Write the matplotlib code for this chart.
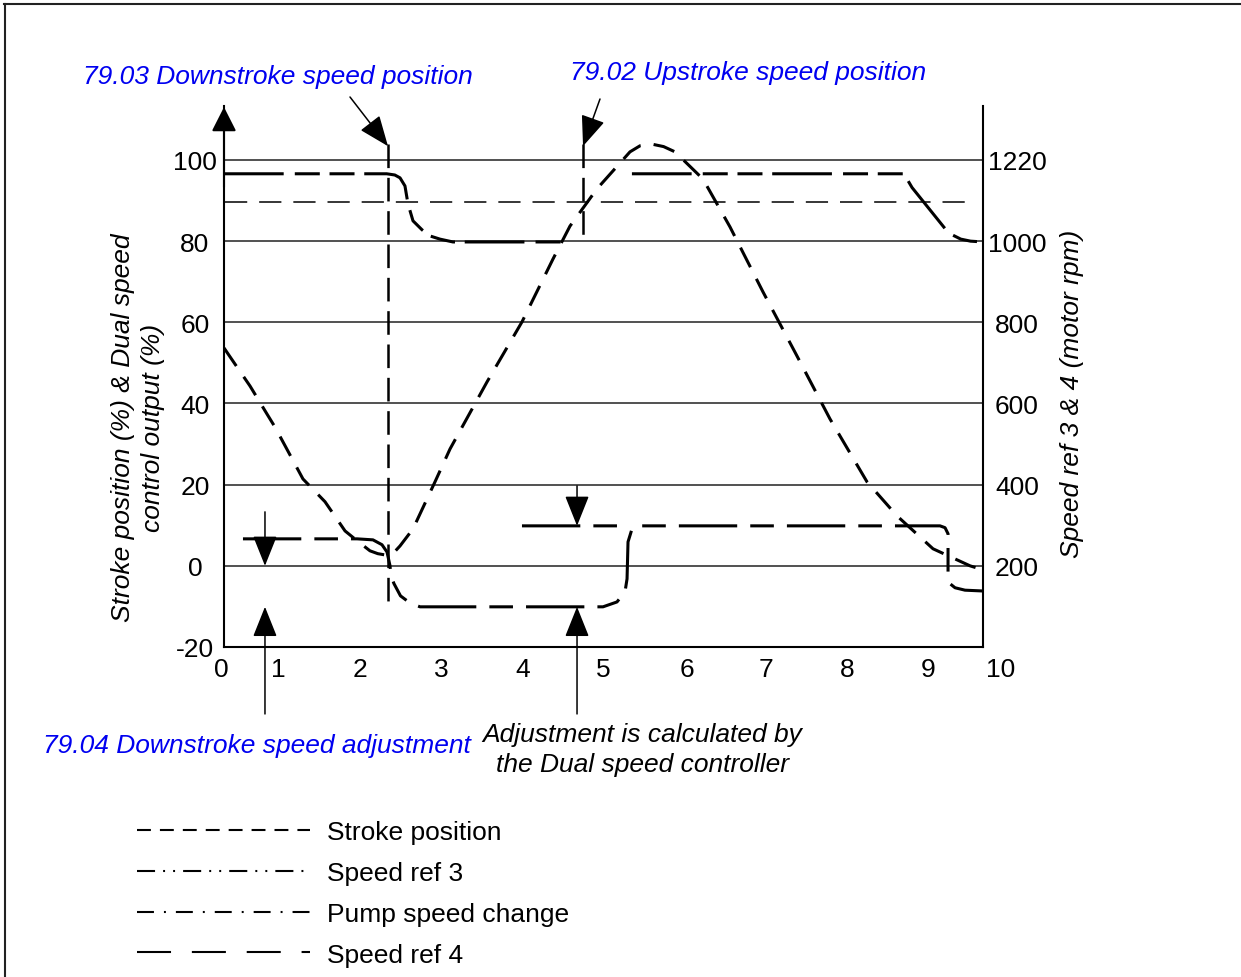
import numpy as np
import matplotlib
matplotlib.use("Agg")
import matplotlib.pyplot as plt
from matplotlib.lines import Line2D

plt.rcParams["font.family"] = ["Liberation Sans", "DejaVu Sans"]
plt.rcParams["font.size"] = 19
plt.rcParams["lines.scale_dashes"] = False

nan = np.nan

# ---------------- data (time units, % of stroke) ----------------
stroke_t = [0.326, 0.486, 0.647, 0.856, 0.954, 1.299, 1.570, 1.817, 1.964, 2.124,
            2.22, 2.334, 2.42, 2.494, 2.654, 2.925, 3.110, 3.565, 3.996, 4.378,
            4.587, 4.920, 5.326, 5.45, 5.597, 5.74, 5.881, 6.225, 6.558, 6.964,
            7.383, 7.789, 8.245, 8.615, 9.058, 9.514, 9.674]
stroke_v = [53.7, 49.0, 44.3, 37.4, 34.2, 21.4, 15.8, 8.6, 6.2, 3.7,
            3.0, 2.6, 3.3, 4.9, 9.1, 20.7, 28.8, 45.3, 60.1, 75.6,
            83.7, 92.9, 102.0, 103.5, 103.9, 103.3, 102.0, 95.3, 83.5, 67.5,
            51.7, 36.2, 20.7, 12.3, 4.2, 0.0, -1.0]

speed_ref3_t = [0.326, 2.33, 2.43, 2.494, 2.555, 2.592, 2.654, 2.765, 2.86, 2.986,
                3.146, 4.50, nan, 5.35, 8.70, 8.80, 9.25, 9.40, 9.52, 9.674]
speed_ref3_v = [96.6, 96.6, 96.3, 95.6, 93.6, 89.2, 85.0, 82.8, 81.3, 80.5,
                79.8, 79.8, nan, 96.6, 96.6, 93.2, 82.0, 80.5, 80.0, 79.8]

speed_ref4_t = [3.996, 5.30, nan,
                0.560, 1.964, 2.161, 2.272, 2.334, 2.371, 2.383, 2.420, 2.500, 2.620,
                2.741, 4.994, 5.166, 5.265, 5.290, 5.302, 5.351, 5.412, 9.144, 9.206,
                9.243, 9.243, 9.267, 9.329, 9.452, 9.674]
speed_ref4_v = [9.85, 9.85, nan,
                6.65, 6.65, 6.4, 5.2, 3.4, 0.0, -2.5, -4.4, -7.4, -9.2,
                -10.1, -10.1, -8.9, -6.4, -3.2, 5.9, 9.1, 9.85, 9.85, 9.4,
                7.9, -2.0, -4.4, -5.4, -6.0, -6.2]

pump_level = 89.6
pump_span = (0.34, 9.51)

downstroke_pos_t = 2.346       # 79.03
upstroke_pos_t = 4.748         # 79.02
marker_top = 103.9
downstroke_line_bottom = -9.4
upstroke_line_bottom = 80.0

adj_left_t = 0.831             # 79.04 arrows
adj_right_t = 4.674            # controller arrows
adj_left_levels = (13.3, 0.0, -10.1)
adj_right_levels = (19.7, 9.85, -10.1)

grid_levels = [0, 20, 40, 60, 80, 100]
left_tick_pos = [-20, 0, 20, 40, 60, 80, 100]
left_tick_labels = ["-20", "0", "20", "40", "60", "80", "100"]
right_tick_pos = [0, 20, 40, 60, 80, 100]
right_tick_labels = ["200", "400", "600", "800", "1000", "1220"]
x_tick_pos = [0.289, 1, 2, 3, 4, 5, 6.03, 7, 8, 9, 9.895]
x_tick_labels = ["0", "1", "2", "3", "4", "5", "6", "7", "8", "9", "10"]

legend_labels = ["Stroke position", "Speed ref 3", "Pump speed change", "Speed ref 4"]

# ---------------- figure ----------------
W, H = 1241, 978
fig = plt.figure(figsize=(W / 100, H / 100), dpi=100)


def fx(px):
    return px / W


def fy(py):
    return 1 - py / H


BLUE = "#0000F0"

ax = fig.add_axes([fx(224), fy(648), fx(983) - fx(224), fy(107) - fy(648)])
ax.set_xlim(0.3264, 9.6736)
ax.set_ylim(-20, 113.3)
ax.patch.set_alpha(0)

for lv in grid_levels:
    ax.axhline(lv, color="#222222", lw=1.1, zorder=1)

ax.set_xticks([])
ax.set_yticks(left_tick_pos, left_tick_labels)
ax.tick_params(axis="y", length=0, pad=21, labelsize=19)
for t in ax.get_yticklabels():
    t.set_horizontalalignment("center")

for lbl, pos in zip(x_tick_labels, x_tick_pos):
    ax.annotate(lbl, xy=(pos, 0), xycoords=ax.get_xaxis_transform(),
                xytext=(0, -7), textcoords="offset points", ha="center", va="top",
                fontsize=19, annotation_clip=False)

for s in ("top", "right"):
    ax.spines[s].set_visible(False)
for s in ("left", "bottom"):
    ax.spines[s].set_linewidth(1.5)

ax2 = ax.twinx()
ax2.set_ylim(ax.get_ylim())
ax2.set_yticks(right_tick_pos, right_tick_labels)
ax2.tick_params(axis="y", length=0, pad=24.5, labelsize=19)
for t in ax2.get_yticklabels():
    t.set_horizontalalignment("center")
for s in ("top", "left", "bottom"):
    ax2.spines[s].set_visible(False)
ax2.spines["right"].set_linewidth(1.5)

# curves
ax.plot(pump_span, [pump_level, pump_level], color="k", lw=1.1, dashes=(16, 8.6), zorder=3)
ax.plot(stroke_t, stroke_v, color="k", lw=2.2, dashes=(15.8, 9.4), zorder=4)
ax.plot(speed_ref3_t, speed_ref3_v, color="k", lw=2.2, dashes=(43, 8, 18, 7, 18, 7), zorder=4)
ax.plot(speed_ref4_t, speed_ref4_v, color="k", lw=2.2, dashes=(42, 9.4, 17, 9.4), zorder=4)

ax.plot([downstroke_pos_t, downstroke_pos_t], [marker_top, downstroke_line_bottom],
        color="k", lw=1.8, dashes=(17, 7), zorder=3)
ax.plot([upstroke_pos_t, upstroke_pos_t], [marker_top, upstroke_line_bottom],
        color="k", lw=1.8, dashes=(17, 7), zorder=3)

arrow = dict(arrowstyle="-|>,head_length=0.95,head_width=0.38", mutation_scale=20,
             color="k", lw=1.1, shrinkA=0, shrinkB=0)

# left axis arrow
ax.annotate("", xy=(0, 0.998), xycoords="axes fraction", xytext=(0, 0.85),
            arrowprops=dict(arrowstyle="-|>,head_length=0.75,head_width=0.38",
                            mutation_scale=20, color="k", lw=1.5, shrinkA=0, shrinkB=0))

# annotation arrows from labels
ax.annotate("", xy=(downstroke_pos_t, marker_top - 0.5), xytext=(fx(350), fy(98)),
            textcoords="figure fraction", arrowprops=arrow, annotation_clip=False)
ax.annotate("", xy=(upstroke_pos_t, marker_top - 0.5), xytext=(fx(600), fy(100)),
            textcoords="figure fraction", arrowprops=arrow, annotation_clip=False)

# adjustment arrows
for t_, (top, mid, low) in ((adj_left_t, adj_left_levels), (adj_right_t, adj_right_levels)):
    ax.annotate("", xy=(t_, mid), xytext=(t_, top), arrowprops=arrow, annotation_clip=False)
    ax.annotate("", xy=(t_, low), xytext=(t_, -36.5), arrowprops=arrow, annotation_clip=False)

# texts
fig.text(fx(83), fy(77), "79.03 Downstroke speed position", color=BLUE, style="italic",
         fontsize=19, ha="left", va="center")
fig.text(fx(570), fy(73), "79.02 Upstroke speed position", color=BLUE, style="italic",
         fontsize=19, ha="left", va="center")
fig.text(fx(43), fy(746), "79.04 Downstroke speed adjustment", color=BLUE, style="italic",
         fontsize=19, ha="left", va="center")
fig.text(fx(642), fy(750), "Adjustment is calculated by\nthe Dual speed controller",
         color="k", style="italic", fontsize=19, ha="center", va="center",
         multialignment="center", linespacing=1.32)
fig.text(fx(138), fy(428), "Stroke position (%) & Dual speed\ncontrol output (%)",
         style="italic", fontsize=19, rotation=90, ha="center", va="center",
         multialignment="center", linespacing=1.3)
fig.text(fx(1072), fy(394), "Speed ref 3 & 4 (motor rpm)", style="italic", fontsize=19,
         rotation=90, ha="center", va="center")

# legend (proxy lines as drawn in the key)
handles = [
    Line2D([], [], color="k", lw=1.5, dashes=(10, 6.5)),
    Line2D([], [], color="k", lw=1.5, dashes=(13, 5.8, 1.4, 5.8, 1.4, 5.8)),
    Line2D([], [], color="k", lw=1.5, dashes=(12.2, 7.2, 1.4, 7.2)),
    Line2D([], [], color="k", lw=1.5, dashes=(24.5, 15)),
]
fig.legend(handles, legend_labels, loc="upper left", bbox_to_anchor=(fx(137), fy(821)),
           frameon=False, fontsize=19, handlelength=6.55, handletextpad=0.64,
           labelspacing=0.64, borderpad=0, borderaxespad=0)

# outer frame (top and left)
fig.add_artist(Line2D([fx(4), 1], [fy(5), fy(5)], transform=fig.transFigure,
                      color="#222222", lw=1.5))
fig.add_artist(Line2D([fx(5), fx(5)], [fy(5), 0], transform=fig.transFigure,
                      color="#222222", lw=1.5))

fig.savefig("out.png", dpi=100)
